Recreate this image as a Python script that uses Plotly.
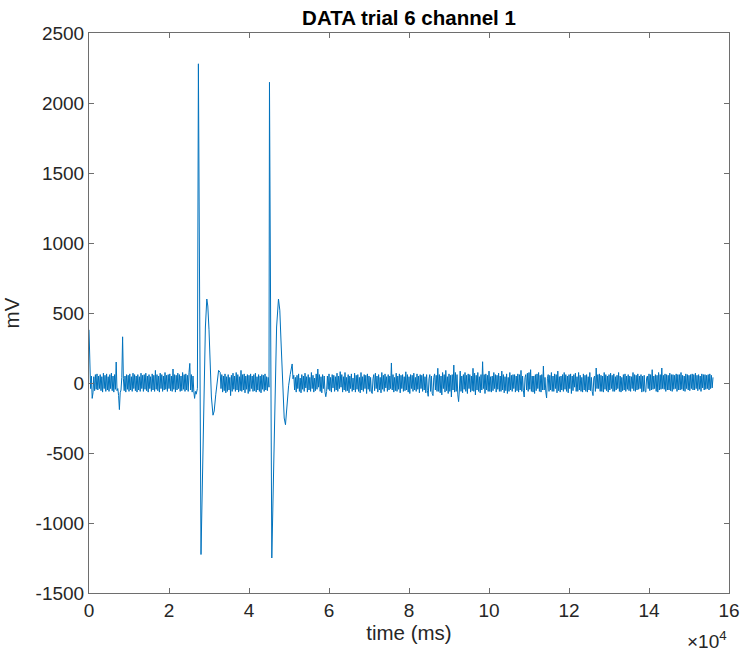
import numpy as np
import plotly.graph_objects as go

# ---- data (mV) ----
step_ms = 200

# segment A: 0 .. 26800 ms
segA_start = 0
segA_vals = [380, 110, -40, 50, -110, -70, 45, -55, 60, -45, 65, -50, 50, -40, 60, -55, 45, -65, 70, -40,
             55, -60, 65, -50, 45, -60, 60, -40, 70, -55, 50, -65, 60, -45, 150, -55, -40, -90, -190, -70,
             -50, 40, 330, 30, -55, 50, -65, 60, -45, 55, -60, 65, -50, 45, -60, 70, -40, 60, -55, 50,
             -65, 60, -50, 45, -60, 70, -40, 55, -60, 60, -45, 70, -55, 50, -65, 60, -40, 45, -60, 65,
             -50, 55, -60, 90, -45, 60, -55, 50, -65, 70, -40, 60, -60, 50, -50, 75, -45, 55, -60, 60,
             -40, 65, -55, 50, -60, 100, -45, 60, -65, 55, -50, 70, -40, 60, -60, 50, -55, 75, -45, 60,
             -60, 65, -50, 55, -60, 75, 140, -50, 60, -65, 50, -60, -110, -60, -80]

# first spike event
ev1_t = [27100, 27350, 28000, 28400, 28800, 29100, 29450, 29700, 30000,
         30300, 30600, 31000, 31300, 31700, 32100, 32400]
ev1_v = [-40, 2280, -1225, -700, 0, 400, 600, 550, 380,
         100, -100, -230, -200, -80, 20, 90]

# segment B: 32800 .. 44800 ms
segB_start = 32800
segB_vals = [75, -40, 60, -65, 50, -55, 65, -70, 45, -60, 60, -50, 40, -90, 55, -60, 70, -45, 50, -60,
             75, -50, 60, -65, 45, -55, 90, -60, 60, -50, 65, -70, 50, -45, 60, -75, 55, -60, 65, -40,
             50, -60, 60, -55, 70, -65, 45, -50, 60, -60, 50, -70, 60, -45, 55, -60, 65, -50, 45, -55,
             40]

# second spike event
ev2_t = [45000, 45120, 45700, 46100, 46500, 46900, 47370, 47700, 48000,
         48400, 48800, 49120, 49500, 49900, 50300, 50790, 51000]
ev2_v = [-30, 2148, -1250, -700, 0, 400, 600, 520, 300,
         0, -250, -298, -150, -20, 60, 136, 30]

# segment C: 51200 .. 156000 ms
segC_start = 51200
segC_vals = [55, -50, 40, -65, 55, -40, 65, -60, 35, -70, 60, -45, 50, -60, 70, -35, 45, -65, 60, -50,
             40, -60, 75, -40, 55, -65, 35, -55, 65, -45, 100, -30, 60, -60, 45, -70, 60, -40, 50, -65,
             -98, -60, 50, -45, 65, -55, 40, -65, 60, -35, 55, -60, 45, -50, 70, -60, 50, -40, 81, -30,
             60, -65, 45, -50, 75, -60, 40, -55, 60, -70, 50, -40, 65, -60, 35, -50, 70, -65, 55, -45,
             60, -60, 40, -70, 75, -50, 45, -60, 60, -40, 55, -75, 65, -45, 50, -60, 40, -65, -75, 30,
             60, -55, 70, -40, 50, -65, 60, -50, 40, -70, 75, -45, 55, -60, 65, -35, 45, -60, 60, -50,
             50, -40, 143, -50, 60, -65, 40, -55, 70, -60, 50, -45, 65, -70, 55, -40, 60, -60, 45, -55,
             80, -50, 60, -65, 45, -75, 60, -40, 55, -60, 70, -50, 40, -60, 65, -45, 50, -70, 60, -40,
             55, -60, 65, -50, 45, -70, 60, -55, -95, 30, 60, -60, 50, -75, -90, 40, 65, -50, 55, -60,
             105, -60, 60, -70, 50, -85, 75, -40, 60, -65, 90, -55, 45, -75, 65, -60, 55, -100, 60, -50,
             128, -65, 75, -60, 60, -85, -133, -50, 85, -60, 50, -70, 60, -45, 75, -60, 55, -75, 65, -40,
             60, -65, 50, -55, 105, -60, 70, -85, 55, -50, 75, -60, 45, -70, 60, -50, 152, -40, 60, -75,
             65, -50, 55, -60, 85, -60, 45, -65, 50, -55, 75, -40, 60, -65, 55, -45, 70, -60, 50, -60,
             85, -50, 60, -70, 45, -55, 65, -75, 40, -60, 75, -50, 55, -60, 60, -40, 60, -65, 50, -55,
             65, -65, 60, -50, 90, -60, 50, -55, -100, 40, 60, -50, 70, -60, 75, -45, 95, -60, 50, -65,
             50, -75, 60, -55, 65, -40, 75, -60, 55, -65, 60, -50, 121, -50, 40, -65, -107, 30, 60, -60,
             55, -50, 75, -60, 50, -60, 65, -40, 60, -70, 85, -55, 45, -65, 50, -50, 60, -60, 75, -45,
             60, -60, 50, -70, 60, -40, 65, -75, 50, -55, 60, -30, 70, -60, 45, -60, 75, -50, 55, -60,
             40, -65, 65, -50, 55, -60, 60, -65, 45, -50, 75, -55, 40, -60, -90, 35, 50, -60, 107, -40,
             60, -40, 65, -60, 55, -60, 50, -65, 75, -45, 60, -55, 50, -65, 60, -50, 70, -40, 55, -60,
             65, -60, 45, -50, 55, -40, 75, -60, 50, -65, 40, -55, 60, -50, 65, -60, 50, -45, 60, -55,
             50, -60, 45, -40, 75, -55, 60, -60, 55, -50, 65, -45, 50, -40, 60, -65, 50, -60, 55, -60,
             -65, 35, 50, -40, 65, -55, 60, -50, 95, -45, 50, -40, 60, -60, 55, -65, 75, -50, 60, -45,
             107, -40, 55, -45, 65, -60, 60, -50, 55, -50, 70, -55, 60, -60, 60, -45, 55, -40, 65, -60,
             60, -50, 60, -50, 75, -45, 55, -55, 50, -60, 65, -40, 60, -50, 55, -55, 60, -40, 65, -50,
             60, -50, 70, -40, 55, -55, 60, -45, 50, -60, 65, -35, 60, -50, 60, -45, 55, -40, 60, -50,
             65, -40, 55, -35, 40]

x_tick_vals = [0, 20000, 40000, 60000, 80000, 100000, 120000, 140000, 160000]
x_tick_text = ["0", "2", "4", "6", "8", "10", "12", "14", "16"]
y_tick_vals = [-1500, -1000, -500, 0, 500, 1000, 1500, 2000, 2500]
y_tick_text = ["-1500", "-1000", "-500", "0", "500", "1000", "1500", "2000", "2500"]

# ---- assemble ----
tA = segA_start + step_ms * np.arange(len(segA_vals))
tB = segB_start + step_ms * np.arange(len(segB_vals))
tC = segC_start + step_ms * np.arange(len(segC_vals))
t = np.concatenate([tA, ev1_t, tB, ev2_t, tC])
v = np.concatenate([segA_vals, ev1_v, segB_vals, ev2_v, segC_vals])

txt = "#262626"
axc = "#6e6e6e"
font_family = "Liberation Sans, Arial, sans-serif"

fig = go.Figure()
fig.add_trace(go.Scatter(x=t, y=v, mode="lines",
                         line=dict(color="#0072BD", width=1.0),
                         showlegend=False, hoverinfo="skip"))

fig.update_layout(
    width=743, height=654,
    margin=dict(l=89, r=14, t=33, b=61, autoexpand=False),
    paper_bgcolor="white", plot_bgcolor="white",
    font=dict(family=font_family, color=txt, size=19),
    title=dict(text="<b>DATA trial 6 channel 1</b>", xref="paper", x=0.5, xanchor="center",
               yref="container", y=1 - 18 / 654, yanchor="middle",
               font=dict(size=20.5, color="#000000", family=font_family)),
)
fig.update_xaxes(
    range=[0, 160000], tickvals=x_tick_vals, ticktext=x_tick_text,
    showgrid=False, zeroline=False, showline=True, linecolor=axc, linewidth=1,
    mirror="ticks", ticks="inside", ticklen=5, tickcolor=axc, automargin=False,
    tickfont=dict(size=19, color=txt),
    title=dict(text="time (ms)", font=dict(size=20.5, color=txt), standoff=0),
)
fig.update_yaxes(
    range=[-1500, 2500], tickvals=y_tick_vals, ticktext=y_tick_text,
    showgrid=False, zeroline=False, showline=True, linecolor=axc, linewidth=1,
    mirror="ticks", ticks="inside", ticklen=5, tickcolor=axc, automargin=False,
    tickfont=dict(size=19, color=txt),
    title=dict(text="mV", font=dict(size=20.5, color=txt), standoff=12),
)
fig.add_annotation(text="\u00d710<sup>4</sup>", xref="paper", yref="paper",
                   x=1.0, y=-47 / 560, xanchor="right", yanchor="middle",
                   showarrow=False, font=dict(size=19, color=txt, family=font_family))

fig.write_html("out.html", config={"displayModeBar": False},
               post_script="document.body.style.margin='0';")
